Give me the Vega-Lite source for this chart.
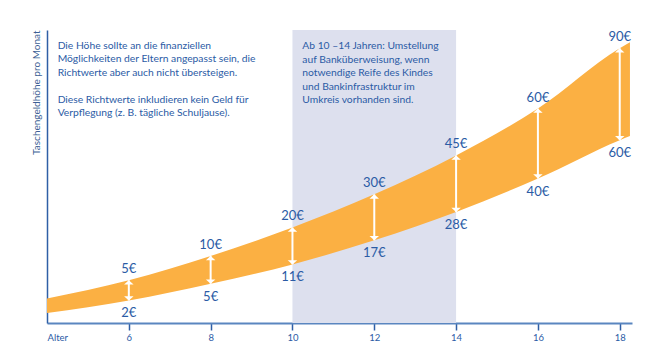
{
  "$schema": "https://vega.github.io/schema/vega-lite/v6.json",
  "width": 585,
  "height": 293,
  "autosize": "none",
  "padding": {"left": 47, "top": 30, "right": 38, "bottom": 38},
  "background": "white",
  "config": {"view": {"stroke": null}, "font": "Lato"},
  "datasets": {
    "band": [
      {"age": 4, "lo": 3.4, "hi": 8.4},
      {"age": 6, "lo": 7.7, "hi": 14.6},
      {"age": 8, "lo": 13.4, "hi": 22.9},
      {"age": 10, "lo": 20.0, "hi": 32.6},
      {"age": 12, "lo": 28.2, "hi": 43.9},
      {"age": 14, "lo": 37.9, "hi": 57.2},
      {"age": 16, "lo": 49.3, "hi": 73.2},
      {"age": 18, "lo": 62.4, "hi": 93.8},
      {"age": 18.25, "lo": 63.8, "hi": 95.8}
    ],
    "marks": [
      {"age": 6, "lo": 7.7, "hi": 14.6, "loLabel": "2€", "hiLabel": "5€"},
      {"age": 8, "lo": 13.4, "hi": 22.9, "loLabel": "5€", "hiLabel": "10€"},
      {"age": 10, "lo": 20.0, "hi": 32.6, "loLabel": "11€", "hiLabel": "20€"},
      {"age": 12, "lo": 28.2, "hi": 43.9, "loLabel": "17€", "hiLabel": "30€"},
      {"age": 14, "lo": 37.9, "hi": 57.2, "loLabel": "28€", "hiLabel": "45€"},
      {"age": 16, "lo": 49.3, "hi": 73.2, "loLabel": "40€", "hiLabel": "60€"},
      {"age": 18, "lo": 62.4, "hi": 93.8, "loLabel": "60€", "hiLabel": "90€"}
    ],
    "zone": [{"from": 10, "to": 14}],
    "notes": [
      {"age": 4.26, "pos": 93.6, "text": "Die Höhe sollte an die finanziellen\nMöglichkeiten der Eltern angepasst sein, die\nRichtwerte aber auch nicht übersteigen."},
      {"age": 4.26, "pos": 75.2, "text": "Diese Richtwerte inkludieren kein Geld für\nVerpflegung (z. B. tägliche Schuljause)."},
      {"age": 10.24, "pos": 93.4, "text": "Ab 10 –14 Jahren: Umstellung\nauf Banküberweisung, wenn\nnotwendige Reife des Kindes\nund Bankinfrastruktur im\nUmkreis vorhanden sind."}
    ]
  },
  "encoding": {
    "x": {
      "field": "age", "type": "quantitative",
      "scale": {"domain": [4, 18.3], "nice": false, "zero": false},
      "axis": {
        "values": [4, 6, 8, 10, 12, 14, 16, 18],
        "labelExpr": "datum.value == 4 ? 'Alter' : datum.label",
        "labelAlign": {"condition": {"test": "datum.value == 4", "value": "left"}, "value": "center"},
        "tickOpacity": {"condition": {"test": "datum.value == 4", "value": 0}, "value": 1},
        "title": null, "grid": false,
        "domainColor": "#5a86c0", "domainWidth": 2,
        "tickColor": "#2f5fa6", "tickSize": 7, "tickWidth": 1.5,
        "labelColor": "#2b5ba5", "labelFontSize": 9.5, "labelFont": "Lato", "labelPadding": 2
      }
    }
  },
  "layer": [
    {
      "data": {"name": "zone"},
      "mark": {"type": "rect", "color": "#dde0ee"},
      "encoding": {
        "x": {"field": "from", "type": "quantitative"},
        "x2": {"field": "to"}
      }
    },
    {
      "data": {"name": "band"},
      "mark": {"type": "area", "color": "#fbb043", "interpolate": "monotone", "opacity": 1},
      "encoding": {
        "y": {
          "field": "lo", "type": "quantitative",
          "scale": {"domain": [0, 100], "nice": false},
          "axis": {
            "title": "Taschengeldhöhe pro Monat", "labels": false, "ticks": false, "grid": false,
            "domainColor": "#2f5fa6", "domainWidth": 1.5,
            "titleAnchor": "end", "titleFontSize": 10, "titleFontWeight": "normal",
            "titleColor": "#3d5f94", "titleFont": "Lato", "titlePadding": 6
          }
        },
        "y2": {"field": "hi"}
      }
    },
    {
      "data": {"name": "marks"},
      "mark": {"type": "rule", "color": "white", "strokeWidth": 2},
      "encoding": {
        "y": {"field": "lo", "type": "quantitative"},
        "y2": {"field": "hi"}
      }
    },
    {
      "data": {"name": "marks"},
      "mark": {"type": "point", "shape": "M-1,0.9L0,0L1,0.9Z", "filled": true, "color": "white", "opacity": 1, "size": 90},
      "encoding": {"y": {"field": "hi", "type": "quantitative"}}
    },
    {
      "data": {"name": "marks"},
      "mark": {"type": "point", "shape": "M-1,-0.9L0,0L1,-0.9Z", "filled": true, "color": "white", "opacity": 1, "size": 90},
      "encoding": {"y": {"field": "lo", "type": "quantitative"}}
    },
    {
      "data": {"name": "marks"},
      "mark": {"type": "text", "dy": -11, "fontSize": 13, "color": "#2b5ba5", "baseline": "middle", "align": "center"},
      "encoding": {
        "y": {"field": "hi", "type": "quantitative"},
        "text": {"field": "hiLabel"}
      }
    },
    {
      "data": {"name": "marks"},
      "mark": {"type": "text", "dy": 13, "fontSize": 13, "color": "#2b5ba5", "baseline": "middle", "align": "center"},
      "encoding": {
        "y": {"field": "lo", "type": "quantitative"},
        "text": {"field": "loLabel"}
      }
    },
    {
      "data": {"name": "notes"},
      "mark": {"type": "text", "fontSize": 10.3, "color": "#2b5ba5", "align": "left", "baseline": "alphabetic", "lineBreak": "\n", "lineHeight": 13.4},
      "encoding": {
        "y": {"field": "pos", "type": "quantitative"},
        "text": {"field": "text"}
      }
    }
  ]
}
